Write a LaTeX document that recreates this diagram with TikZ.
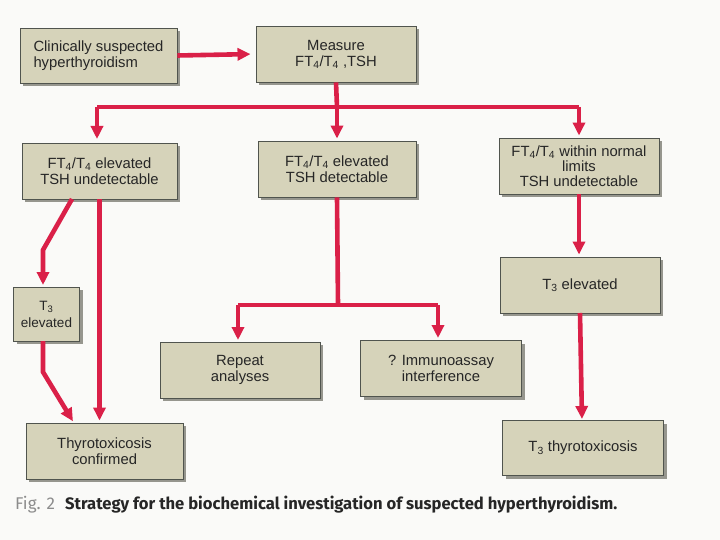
\documentclass[tikz,border=0pt]{standalone}
\usepackage{fontspec}
\setmainfont{Liberation Sans}
\newfontfamily\capfont{Fira Sans}
\usetikzlibrary{arrows.meta,shadows,calc}
\definecolor{boxfill}{RGB}{214,211,186}
\definecolor{arrred}{RGB}{218,32,72}
\definecolor{boxdraw}{RGB}{80,84,78}
\definecolor{shadowc}{RGB}{150,150,142}
\definecolor{bgc}{RGB}{250,250,248}
\tikzset{
  box/.style={draw=boxdraw, line width=0.9pt, fill=boxfill, align=center,
    inner sep=2pt, font=\fontsize{14.8}{16}\selectfont, text=black!85,
    drop shadow={shadow xshift=3pt, shadow yshift=-3pt, fill=shadowc, opacity=1}},
  conn/.style={draw=arrred, line width=4.6pt, line join=miter},
  arr/.style={conn, -{Triangle[width=12pt,length=13pt]}, shorten >=2pt},
}
\newcommand{\sub}[1]{\textsubscript{#1}}
\begin{document}
\begin{tikzpicture}[x=1pt,y=-1pt]
\fill[bgc] (0,0) rectangle (720,540);
\useasboundingbox (0,0) rectangle (720,540);

\node[box, minimum width=157pt, minimum height=55pt, align=left] (n1) at (98.5,55.5) {Clinically suspected\\hyperthyroidism};
\node[box, minimum width=160pt, minimum height=56pt] (n2) at (336,54) {Measure\\FT\sub{4}/T\sub{4} ,TSH};
\node[box, minimum width=155pt, minimum height=56pt] (n3) at (99.5,171) {FT\sub{4}/T\sub{4} elevated\\TSH undetectable};
\node[box, minimum width=158pt, minimum height=56pt] (n4) at (337,169) {FT\sub{4}/T\sub{4} elevated\\TSH detectable};
\node[box, minimum width=160pt, minimum height=56pt, font=\fontsize{14.8}{15}\selectfont] (n5) at (579,166) {FT\sub{4}/T\sub{4} within normal\\limits\\TSH undetectable};
\node[box, minimum width=160pt, minimum height=56pt] (n6) at (580,285) {T\sub{3} elevated};
\node[box, minimum width=66pt, minimum height=54pt, font=\fontsize{13.5}{17}\selectfont] (n7) at (46.5,314) {T\sub{3}\\elevated};
\node[box, minimum width=160pt, minimum height=56pt] (n8) at (240,370) {Repeat\\analyses};
\node[box, minimum width=161pt, minimum height=56pt] (n9) at (441,368.5) {? Immunoassay\\interference};
\node[box, minimum width=157pt, minimum height=56pt] (n10) at (104.5,451) {Thyrotoxicosis\\confirmed};
\node[box, minimum width=161pt, minimum height=55pt] (n11) at (583,448) {T\sub{3} thyrotoxicosis};

% connectors
\draw[arr, shorten >=5pt] (n1.east) -- (n2.west);
\coordinate (b1) at (337,107);
\draw[conn] (n2.south) -- (b1);
\draw[conn] (97,107) -- (579,107);
\draw[arr] (97,107) -- (97,141);
\draw[arr] (b1) -- (n4.north);
\draw[arr] (579,107) -- (n5.north);

\coordinate (c1) at (72,199);
\coordinate (c2) at (43,250);
\coordinate (c3) at (43,287);
\draw[arr] (c1) -- (c2) -- (c3);
\draw[arr] (n3.south) -- (n3.south |- n10.north);
\coordinate (d1) at (43,341);
\coordinate (d2) at (43,372);
\coordinate (d3) at (74,423);
\draw[arr] (d1) -- (d2) -- (d3);

\coordinate (e1) at (338,305);
\draw[conn] (n4.south) -- (e1);
\draw[conn] (238,305) -- (438,305);
\draw[arr] (238,305) -- (238,342);
\draw[arr] (438,305) -- (438,340);

\draw[arr] (n5.south) -- (n5.south |- n6.north);
\draw[arr] (580,313) -- (582,421);

% caption
\node[anchor=base west, inner sep=0pt, font=\capfont\fontsize{17}{19}\selectfont, text=black!45] (fig) at (15,509) {Fig. 2};
\node[anchor=base west, inner sep=0pt, font=\capfont\bfseries\fontsize{16.6}{19}\selectfont, text=black!85] (cap) at (65,509) {Strategy for the biochemical investigation of suspected hyperthyroidism.};
\end{tikzpicture}
\end{document}
